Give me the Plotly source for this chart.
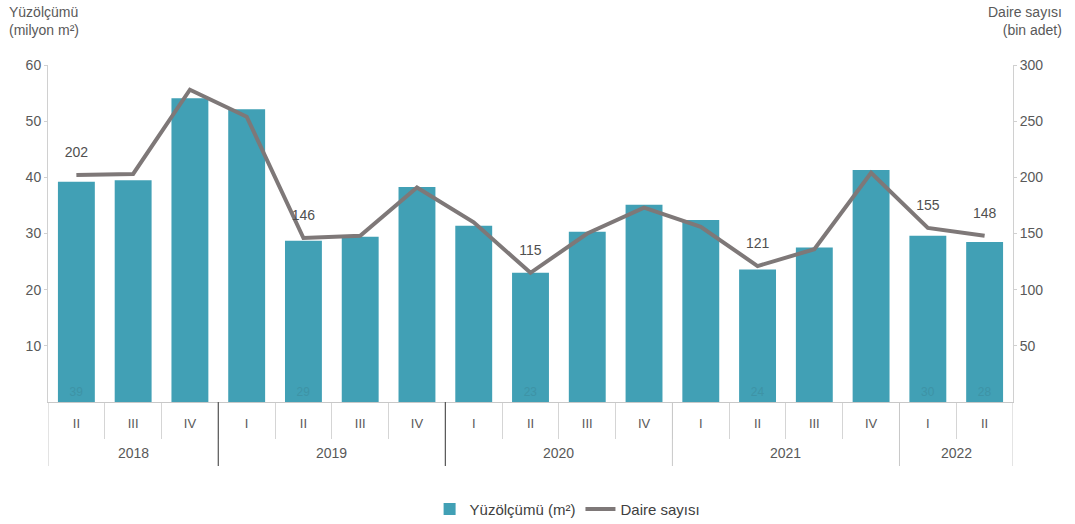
import plotly.graph_objects as go

years = ["2018"] * 3 + ["2019"] * 4 + ["2020"] * 4 + ["2021"] * 4 + ["2022"] * 2
quarters = ["II", "III", "IV", "I", "II", "III", "IV", "I", "II", "III", "IV",
            "I", "II", "III", "IV", "I", "II"]
area = [39.2, 39.5, 54.1, 52.1, 28.7, 29.4, 38.3, 31.4, 23.0, 30.3, 35.1,
        32.4, 23.6, 27.5, 41.3, 29.6, 28.5]
dwellings = [202, 203, 278, 254, 146, 148, 191, 160, 115, 150, 173,
             156, 121, 136, 204, 155, 148]
line_labels = ["202", "", "", "", "146", "", "", "", "115", "", "",
               "", "121", "", "", "155", "148"]
bar_labels = ["39", "", "", "", "29", "", "", "", "23", "", "",
              "", "24", "", "", "30", "28"]

BAR = "#41A0B5"
LINE = "#7E7878"
FONT = "Liberation Sans, Arial, sans-serif"
GRAY = "#595959"

idx = list(range(len(quarters)))

# year groups (derived from the years list)
groups = []
for i, y in enumerate(years):
    if not groups or groups[-1][0] != y:
        groups.append([y, i, i])
    else:
        groups[-1][2] = i

fig = go.Figure()
fig.add_trace(go.Bar(
    x=idx, y=area, name="Yüzölçümü (m²)",
    marker=dict(color=BAR, line=dict(width=0)),
    text=bar_labels, textposition="inside", insidetextanchor="start",
    textfont=dict(color="#3E93A6", size=12, family=FONT),
    hoverinfo="y",
))
fig.add_trace(go.Scatter(
    x=idx, y=dwellings, name="Daire sayısı", yaxis="y2",
    mode="lines+markers+text", line=dict(color=LINE, width=4),
    marker=dict(size=22, color="rgba(0,0,0,0)"),
    text=line_labels, textposition="top center",
    textfont=dict(color="#505050", size=14, family=FONT),
    cliponaxis=False,
))

shapes = []
annotations = []
bounds = [groups[0][1] - 0.5] + [g[2] + 0.5 for g in groups]
for k, b in enumerate(bounds):
    dark = k in (1, 2)
    shapes.append(dict(type="line", xref="x", yref="paper", x0=b, x1=b, y0=0, y1=-0.19,
                       line=dict(color="#555555" if dark else "#C8C8C8", width=1.2 if dark else 1)))
for y, a, b in groups:
    annotations.append(dict(text=y, xref="x", yref="paper", x=(a + b) / 2, y=-0.151,
                            yanchor="middle", showarrow=False,
                            font=dict(size=14, color=GRAY)))

annotations += [
    dict(text="Yüzölçümü<br>(milyon m²)", xref="paper", yref="paper",
         x=-0.042, y=1.0, yshift=63, xanchor="left", yanchor="top",
         align="left", showarrow=False, font=dict(size=14, color=GRAY)),
    dict(text="Daire sayısı<br>(bin adet)", xref="paper", yref="paper",
         x=1.053, y=1.0, yshift=63, xanchor="right", yanchor="top",
         align="right", showarrow=False, font=dict(size=14, color=GRAY)),
]

fig.update_layout(
    width=1075, height=524,
    paper_bgcolor="white", plot_bgcolor="white",
    margin=dict(l=48, r=62, t=65, b=122),
    font=dict(family=FONT, color=GRAY, size=13),
    bargap=0.35,
    showlegend=True,
    legend=dict(orientation="h", xref="container", yref="container",
                x=0.528, xanchor="center", y=0.028, yanchor="middle",
                font=dict(size=15, color="#404040")),
    xaxis=dict(
        range=[-0.5, len(idx) - 0.5], tickvals=idx, ticktext=quarters,
        showline=True, linecolor="#C8C8C8", linewidth=1,
        ticks="outside", ticklen=9, tickcolor="rgba(0,0,0,0)",
        minor=dict(tickvals=[i + 0.5 for i in idx[:-1]], ticks="outside",
                   ticklen=36, tickcolor="#D5D5D5", tickwidth=1),
        tickfont=dict(size=13, color=GRAY),
        showgrid=False, zeroline=False, fixedrange=True,
    ),
    yaxis=dict(
        range=[0, 60], tickvals=[10, 20, 30, 40, 50, 60], showgrid=False,
        showline=True, linecolor="#D0D0D0", linewidth=1,
        ticks="outside", ticklen=3, tickcolor="#D0D0D0",
        tickfont=dict(size=14, color=GRAY), zeroline=False,
    ),
    yaxis2=dict(
        range=[0, 300], tickvals=[50, 100, 150, 200, 250, 300], overlaying="y",
        side="right", showgrid=False, showline=True, linecolor="#D0D0D0", linewidth=1,
        ticks="outside", ticklen=3, tickcolor="#D0D0D0",
        tickfont=dict(size=14, color=GRAY), zeroline=False,
    ),
    shapes=shapes,
    annotations=annotations,
)

fig.write_html("out.html", config={"displayModeBar": False},
               post_script="document.body.style.margin='0px';")
